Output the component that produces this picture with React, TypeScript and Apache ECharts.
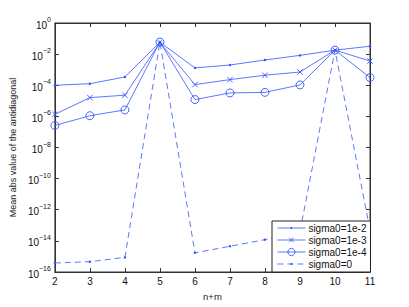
import React, { useEffect, useRef } from "react";
import * as echarts from "echarts";

const nm = [2, 3, 4, 5, 6, 7, 8, 9, 10, 11];
const sigma1e2 = [1.0e-4, 1.26e-4, 3.4e-4, 5.8e-2, 1.3e-3, 2.0e-3, 4.2e-3, 8.3e-3, 1.8e-2, 3.2e-2];
const sigma1e3 = [1.35e-6, 1.6e-5, 2.3e-5, 5.6e-2, 1.1e-4, 2.3e-4, 4.4e-4, 7.1e-4, 1.8e-2, 3.6e-3];
const sigma1e4 = [2.6e-7, 1.1e-6, 2.6e-6, 6.0e-2, 1.2e-5, 3.2e-5, 3.5e-5, 1.05e-4, 1.8e-2, 3.1e-4];
const sigma0 = [3.8e-16, 4.6e-16, 8.7e-16, 6.0e-2, 1.7e-15, 4.5e-15, 1.2e-14, 4.0e-14, 1.8e-2, 5.0e-14];
const names = ["sigma0=1e-2", "sigma0=1e-3", "sigma0=1e-4", "sigma0=0"];

const BLUE = "#3355ff";
const FONT = "Liberation Sans";
const DOT = "path://M0,0M10,10M3.5,5A1.5,1.5,0,1,0,6.5,5A1.5,1.5,0,1,0,3.5,5Z";
const CROSS = "path://M0,0M10,10M2,2L8,8M8,2L2,8";

export default function App() {
  const ref = useRef<HTMLDivElement>(null);
  useEffect(() => {
    if (!ref.current) return;
    const chart = echarts.init(ref.current, null, { renderer: "svg" });
    const pts = (v: number[]) => nm.map((x, i) => [x, v[i]]);
    const base = {
      type: "line",
      color: BLUE,
      lineStyle: { color: BLUE, width: 0.8 },
      emphasis: { disabled: true },
    };
    const tick = { inside: true, length: 4, lineStyle: { color: "#333" } };
    chart.setOption({
      animation: false,
      backgroundColor: "#fff",
      grid: { left: 53, right: 39, top: 23, bottom: 35, show: true, borderColor: "#333", borderWidth: 1 },
      xAxis: [
        {
          type: "value",
          min: 2,
          max: 11,
          interval: 1,
          name: "n+m",
          nameLocation: "middle",
          nameGap: 19,
          nameTextStyle: { fontFamily: FONT, fontSize: 9.5, color: "#222" },
          axisLine: { lineStyle: { color: "#333" } },
          axisTick: tick,
          axisLabel: { fontFamily: FONT, fontSize: 10, color: "#111", margin: 4 },
          splitLine: { show: false },
        },
        {
          type: "value",
          position: "top",
          min: 2,
          max: 11,
          interval: 1,
          axisLine: { lineStyle: { color: "#333" } },
          axisTick: tick,
          axisLabel: { show: false },
          splitLine: { show: false },
        },
      ],
      yAxis: [
        {
          type: "log",
          logBase: 10,
          min: 1e-16,
          max: 1,
          interval: 2,
          name: "Mean abs value of the antidiagonal",
          nameLocation: "middle",
          nameGap: 28,
          nameTextStyle: { fontFamily: FONT, fontSize: 9, color: "#222" },
          axisLine: { lineStyle: { color: "#333" } },
          axisTick: tick,
          axisLabel: {
            margin: 4,
            formatter: (v: number) => {
              const e = Math.round(Math.log10(v));
              return "{b|10}{s|" + (e < 0 ? "\u2212" + -e : String(e)) + "}";
            },
            rich: {
              b: { fontFamily: FONT, fontSize: 10, color: "#111", verticalAlign: "bottom", lineHeight: 14 },
              s: { fontFamily: FONT, fontSize: 7, color: "#111", verticalAlign: "top", lineHeight: 14 },
            },
          },
          splitLine: { show: false },
        },
        {
          type: "log",
          logBase: 10,
          min: 1e-16,
          max: 1,
          interval: 2,
          position: "right",
          axisLine: { lineStyle: { color: "#333" } },
          axisTick: tick,
          axisLabel: { show: false },
          splitLine: { show: false },
        },
      ],
      legend: {
        left: 272,
        top: 221,
        orient: "vertical",
        backgroundColor: "#fff",
        borderColor: "#222",
        borderWidth: 1,
        borderRadius: 0,
        padding: [2, 4, 3, 5],
        itemWidth: 28,
        itemHeight: 9,
        itemGap: 2,
        lineStyle: { width: 0.8 },
        itemStyle: { borderWidth: 0.9 },
        textStyle: { fontFamily: FONT, fontSize: 10, color: "#111", padding: [0, 0, 0, -2] },
        data: names,
      },
      series: [
        {
          ...base,
          name: names[0],
          symbol: DOT,
          symbolSize: 8,
          itemStyle: { color: BLUE },
          data: pts(sigma1e2),
        },
        {
          ...base,
          name: names[1],
          symbol: CROSS,
          symbolSize: 9,
          itemStyle: { color: BLUE, borderColor: BLUE, borderWidth: 0.9 },
          data: pts(sigma1e3),
        },
        {
          ...base,
          name: names[2],
          symbol: "circle",
          symbolSize: 8,
          itemStyle: { color: "rgba(0,0,0,0)", borderColor: BLUE, borderWidth: 0.9 },
          data: pts(sigma1e4),
        },
        {
          ...base,
          name: names[3],
          symbol: DOT,
          symbolSize: 8,
          itemStyle: { color: BLUE },
          lineStyle: { color: BLUE, width: 0.8, type: [6, 4] },
          data: pts(sigma0),
        },
      ],
    });
    return () => chart.dispose();
  }, []);
  return <div ref={ref} style={{ width: 409, height: 307, position: "absolute", left: 0, top: 0 }} />;
}
